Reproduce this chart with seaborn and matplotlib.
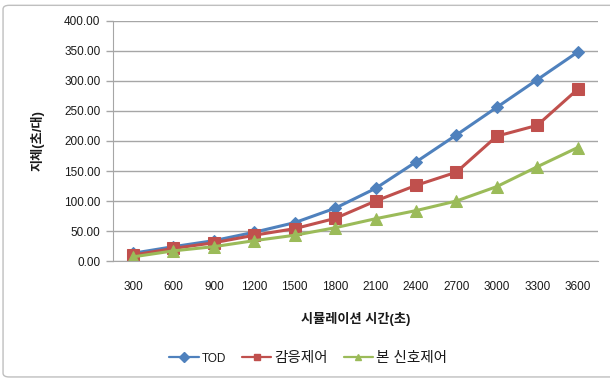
import matplotlib
matplotlib.use("Agg")
import matplotlib.pyplot as plt
from matplotlib.lines import Line2D
from matplotlib.patches import FancyBboxPatch
import pandas as pd
import seaborn as sns

# Simulation time (s) and average delay (s/veh) for each control strategy
sim_times = ["300", "600", "900", "1200", "1500", "1800",
             "2100", "2400", "2700", "3000", "3300", "3600"]
tod = [13, 24, 34, 48, 64, 88, 121, 165, 210, 256, 302, 348]
actuated = [10, 21, 30.5, 43, 54, 71, 100, 126, 148, 208, 226, 286]
proposed = [7, 17, 24, 34, 43, 55.5, 70.5, 84, 100, 124, 157, 189]
series_names = ["TOD", "감응제어", "본 신호제어"]
y_ticks = [0, 50, 100, 150, 200, 250, 300, 350, 400]

colors = ["#4F81BD", "#C0504D", "#9BBB59"]
markers = ["D", "s", "^"]
marker_sizes = [6, 8, 8]

df = pd.DataFrame({
    "time": sim_times * 3,
    "delay": tod + actuated + proposed,
    "series": sum([[n] * len(sim_times) for n in series_names], []),
})

sns.set_style("white")
fonts = ["Liberation Sans", "Noto Sans CJK KR"]
plt.rcParams["font.family"] = fonts

fig = plt.figure(figsize=(6.1, 3.8), dpi=100)
ax = fig.add_axes([0.185, 0.313, 0.795, 0.632])

for name, c, m, ms in zip(series_names, colors, markers, marker_sizes):
    sub = df[df["series"] == name]
    sns.lineplot(data=sub, x="time", y="delay", ax=ax, color=c, marker=m,
                 markersize=ms, markeredgecolor=c, linewidth=2.2, sort=False,
                 legend=False)

ax.set_xlim(-0.5, len(sim_times) - 0.5)
ax.set_ylim(0, 400)
ax.set_yticks(y_ticks)
ax.set_yticklabels([f"{v:.2f}" for v in y_ticks])
ax.yaxis.grid(True, color="#A6A6A6", linewidth=1)
ax.xaxis.grid(False)
ax.set_axisbelow(True)

for s in ["top", "right"]:
    ax.spines[s].set_visible(False)
ax.spines["left"].set_color("#A6A6A6")
ax.spines["bottom"].set_color("#A6A6A6")

ax.tick_params(axis="y", length=5, width=1, color="#A6A6A6", labelsize=8.5,
               labelcolor="#1a1a1a", pad=4, left=True)
ax.tick_params(axis="x", length=0, labelsize=8.5, labelcolor="#1a1a1a", pad=14)

ax.set_xlabel("시뮬레이션 시간(초)", fontsize=9.5, fontweight="bold",
              labelpad=14, color="#1a1a1a")
ax.set_ylabel("지체(초/대)", fontsize=9.5, fontweight="bold",
              labelpad=14, color="#1a1a1a")

handles = [Line2D([0], [0], color=c, marker=m, markersize=5,
                  linewidth=1.6, markeredgecolor=c)
           for c, m in zip(colors, markers)]
leg = fig.legend(handles, series_names, loc="center",
                 bbox_to_anchor=(0.505, 0.058), ncol=3, frameon=False,
                 fontsize=10.5, handlelength=2.0, columnspacing=1.1,
                 handletextpad=0.2)
leg.get_texts()[0].set_fontsize(8.5)
for t in leg.get_texts():
    t.set_color("#1a1a1a")

# Light chart-area frame
frame = FancyBboxPatch((0.005, 0.008), 1.2, 0.978,
                       boxstyle="round,pad=0,rounding_size=0.01",
                       transform=fig.transFigure, fill=False,
                       edgecolor="#BFBFBF", linewidth=1)
fig.patches.append(frame)

fig.savefig("out.png", dpi=100)
